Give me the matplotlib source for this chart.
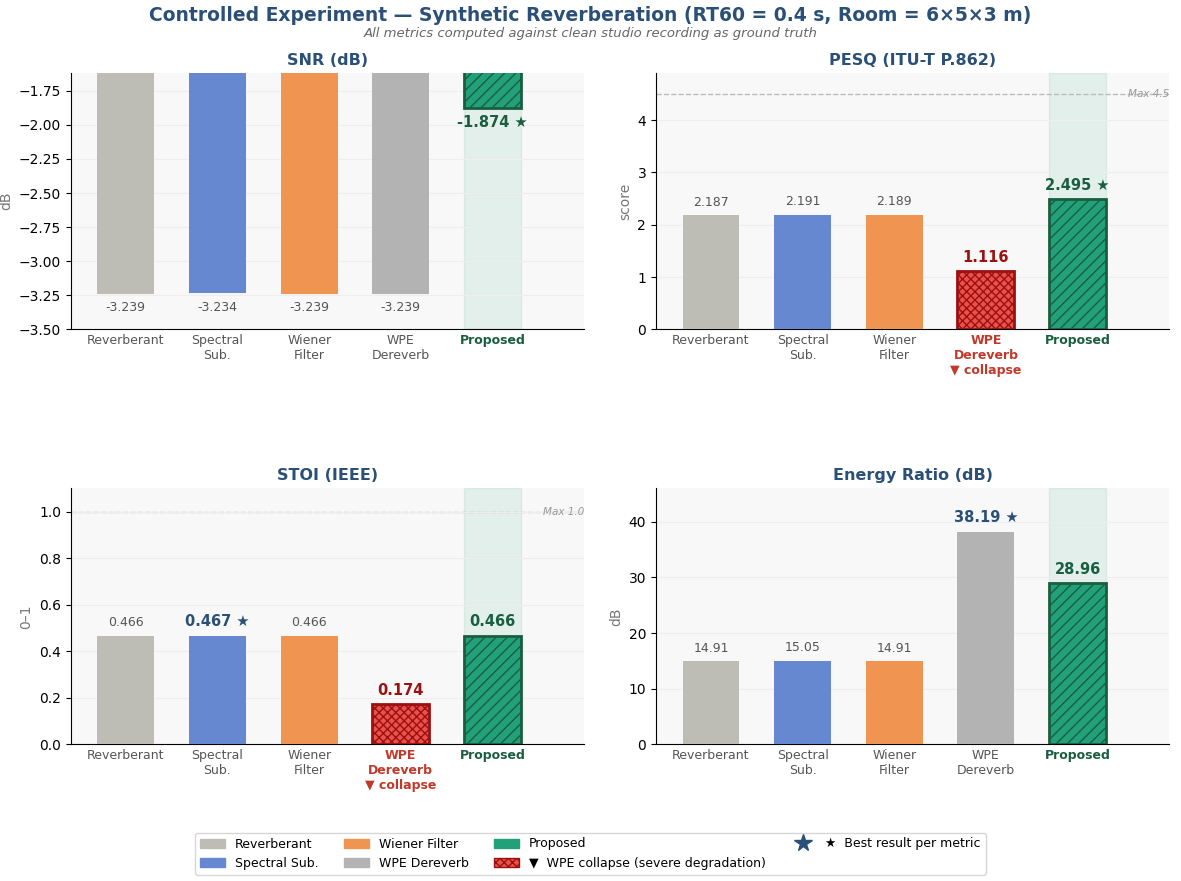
import matplotlib.pyplot as plt
from matplotlib.patches import Patch
from matplotlib.lines import Line2D
import numpy as np

methods = ['Reverberant', 'Spectral\nSub.', 'Wiener\nFilter', 'WPE\nDereverb', 'Proposed']
legend_names = ['Reverberant', 'Spectral Sub.', 'Wiener Filter', 'WPE Dereverb', 'Proposed']
colors = ['#bebdb5', '#6688d0', '#f09452', '#b3b3b3', '#22a07a']

snr = [-3.239, -3.234, -3.239, -3.239, -1.874]
pesq = [2.187, 2.191, 2.189, 1.116, 2.495]
stoi = [0.466, 0.467, 0.466, 0.174, 0.466]
energy = [14.91, 15.05, 14.91, 38.19, 28.96]

panels = [
    dict(title='SNR (dB)', vals=snr, ylab='dB', ylim=(-3.5, -1.62), best=4, collapse=False, fmt='{:.3f}', ref=None),
    dict(title='PESQ (ITU-T P.862)', vals=pesq, ylab='score', ylim=(0, 4.9), best=4, collapse=True, fmt='{:.3f}', ref=(4.5, 'Max 4.5')),
    dict(title='STOI (IEEE)', vals=stoi, ylab='0–1', ylim=(0, 1.1), best=1, collapse=True, fmt='{:.3f}', ref=(1.0, 'Max 1.0')),
    dict(title='Energy Ratio (dB)', vals=energy, ylab='dB', ylim=(0, 46), best=3, collapse=False, fmt='{:.2f}', ref=None),
]

green_dark = '#1a5e40'
red_dark = '#9b1010'
blue_dark = '#2a5078'

fig, axes = plt.subplots(2, 2, figsize=(11.81, 8.81), dpi=100)
fig.subplots_adjust(left=0.06, right=0.99, top=0.917, bottom=0.155, hspace=0.62, wspace=0.14)
fig.suptitle('Controlled Experiment — Synthetic Reverberation (RT60 = 0.4 s, Room = 6×5×3 m)',
             fontsize=13.5, fontweight='bold', color='#2a5078', y=0.993)
fig.text(0.5, 0.958, 'All metrics computed against clean studio recording as ground truth',
         ha='center', fontsize=9.5, style='italic', color='#666666')

x = np.arange(5)
for ax, p in zip(axes.flat, panels):
    ax.set_facecolor('#f8f8f8')
    ax.axvspan(3.69, 4.31, color='#22a07a', alpha=0.1, zorder=0)
    vals = p['vals']
    lo, hi = p['ylim']
    span = hi - lo
    for i, v in enumerate(vals):
        if i == 4:
            ax.bar(i, v, 0.62, color=colors[i], hatch='///', edgecolor=green_dark, linewidth=2, zorder=3)
        elif i == 3 and p['collapse']:
            ax.bar(i, v, 0.62, color='#e8524a', hatch='xxxx', edgecolor=red_dark, linewidth=2, zorder=3)
        else:
            ax.bar(i, v, 0.62, color=colors[i], zorder=3)
        txt = p['fmt'].format(v)
        bold = False
        col = '#555555'
        if i == p['best']:
            txt += ' ★'
            bold = True
            col = green_dark if i == 4 else blue_dark
        elif i == 4:
            bold = True
            col = green_dark
        if i == 3 and p['collapse']:
            bold = True
            col = red_dark
        if v < 0:
            ax.text(i, v - 0.03 * span, txt, ha='center', va='top', fontsize=10.5 if bold else 9,
                    fontweight='bold' if bold else 'normal', color=col, zorder=5)
        else:
            ax.text(i, v + 0.025 * span, txt, ha='center', va='bottom', fontsize=10.5 if bold else 9,
                    fontweight='bold' if bold else 'normal', color=col, zorder=5)
    if p['ref']:
        ax.axhline(p['ref'][0], color='#bbbbbb', ls='--', lw=1, zorder=1)
        ax.text(5.0, p['ref'][0], p['ref'][1], ha='right', va='center', fontsize=7.5,
                style='italic', color='#999999')
    ax.set_ylim(lo, hi)
    ax.set_xlim(-0.6, 5.0)
    ax.set_xticks(x)
    labels = list(methods)
    if p['collapse']:
        labels[3] = 'WPE\nDereverb\n▼ collapse'
    ax.set_xticklabels(labels, fontsize=9, color='#555555')
    for j, t in enumerate(ax.get_xticklabels()):
        if j == 4:
            t.set_fontweight('bold'); t.set_color(green_dark)
        if j == 3 and p['collapse']:
            t.set_fontweight('bold'); t.set_color('#c0392b')
    ax.tick_params(axis='x', length=0)
    ax.set_ylabel(p['ylab'], color='#777777', fontsize=10)
    ax.set_title(p['title'], fontsize=11.5, fontweight='bold', color='#2a5078')
    ax.grid(axis='y', color='#eeeeee', lw=0.8, zorder=0)
    ax.spines['top'].set_visible(False)
    ax.spines['right'].set_visible(False)

handles = [Patch(color=colors[0]), Patch(color=colors[1]), Patch(color=colors[2]), Patch(color=colors[3]),
           Patch(facecolor=colors[4], edgecolor=colors[4]),
           Patch(facecolor='#e8524a', hatch='xxxx', edgecolor=red_dark),
           Line2D([], [], marker='*', color=blue_dark, ls='none', markersize=13)]
labels = ['Reverberant', 'Spectral Sub.', 'Wiener Filter', 'WPE Dereverb', 'Proposed',
          '▼  WPE collapse (severe degradation)', '★  Best result per metric']
order = [0, 1, 2, 3, 4, 5, 6]
fig.legend([handles[i] for i in order], [labels[i] for i in order], loc='lower center', ncol=4,
           fontsize=9, frameon=True, bbox_to_anchor=(0.5, 0.0), edgecolor='#cccccc')
plt.savefig('out.png', dpi=100)
